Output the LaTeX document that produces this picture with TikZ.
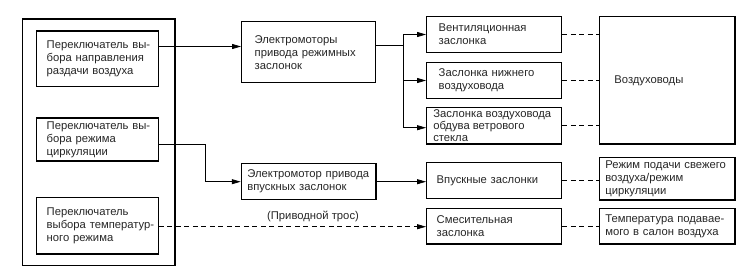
\documentclass[tikz,border=0pt]{standalone}
\usepackage{fontspec}
\setmainfont{Liberation Sans}
\usetikzlibrary{arrows.meta}
\begin{document}
\begin{tikzpicture}[x=1bp,y=-1bp,
  txt/.style={font=\fontsize{11.3}{13}\selectfont, text=black!85},
  box/.style={draw, line width=1.3bp, inner ysep=0pt, align=left, txt},
  arr/.style={line width=0.8bp, -{Triangle[length=9bp,width=5bp]}},
  wire/.style={line width=0.8bp},
  link/.style={line width=0.8bp, dash pattern=on 5bp off 3.5bp}
]
\useasboundingbox (0,0) rectangle (750,272);
\node[draw, line width=1.3bp, minimum width=152.3bp, minimum height=246.7bp] (panel) at (98.85,142.35) {};
\node[box, minimum width=121.6bp, minimum height=55.7bp, text width=101.6bp, inner xsep=10bp] (s1) at (97.5,58.8) {\mbox{Переключатель вы-}\\\mbox{бора направления}\\\mbox{раздачи воздуха}};
\node[box, minimum width=121.6bp, minimum height=43bp, text width=101.6bp, inner xsep=10bp] (s2) at (97.5,139.5) {\mbox{Переключатель вы-}\\\mbox{бора режима}\\циркуляции};
\node[box, minimum width=121.6bp, minimum height=56.3bp, text width=101.6bp, inner xsep=10bp] (s3) at (97.5,225.8) {Переключатель\\\mbox{выбора температур-}\\\mbox{ного режима}};
\node[box, minimum width=134bp, minimum height=61bp, text width=108bp, inner xsep=13bp] (m1) at (308.7,52.2) {Электромоторы\\\mbox{привода режимных}\\заслонок};
\node[box, minimum width=134.6bp, minimum height=36bp, text width=122.6bp, inner xsep=6bp] (m2) at (308.7,181.7) {\mbox{Электромотор привода}\\\mbox{впускных заслонок}};
\node[box, minimum width=135bp, minimum height=35.6bp, text width=111bp, inner xsep=12bp] (d1) at (494.2,34.5) {Вентиляционная\\заслонка};
\node[box, minimum width=135bp, minimum height=35.6bp, text width=111bp, inner xsep=12bp] (d2) at (494.2,80.5) {\mbox{Заслонка нижнего}\\воздуховода};
\node[box, minimum width=135bp, minimum height=36.3bp] (d3) at (494.2,125.8) {};
\node[txt, align=left, anchor=west, inner sep=0pt, font=\fontsize{11.3}{12}\selectfont] (d3t) at ([xshift=7bp]d3.west) {Заслонка воздуховода\\обдува ветрового\\стекла};
\node[box, minimum width=135bp, minimum height=35.6bp, text width=115bp, inner xsep=10bp] (d4) at (494.2,180.5) {\mbox{Впускные заслонки}};
\node[box, minimum width=135bp, minimum height=35.7bp, text width=115bp, inner xsep=10bp] (d5) at (494.2,226.2) {Смесительная\\заслонка};
\node[box, minimum width=135.7bp, minimum height=127.3bp, text width=105.7bp, inner xsep=15bp] (r1) at (667.2,80.3) {Воздуховоды};
\node[box, minimum width=135.7bp, minimum height=42.7bp, text width=123.7bp, inner xsep=6bp] (r2) at (667.2,178.7) {\mbox{Режим подачи свежего}\\\mbox{воздуха/режим}\\циркуляции};
\node[box, minimum width=135.7bp, minimum height=35.7bp, text width=123.7bp, inner xsep=6bp] (r3) at (667.2,226.2) {\mbox{Температура подавае-}\\\mbox{мого в салон воздуха}};
\node[txt] (cable) at (313,216) {(Приводной трос)};
% connectors
\draw[arr] (s1.east |- 0,46.5) -- (m1.west |- 0,46.5);
\coordinate (j1) at (403.3,45.7);
\coordinate (j3) at (403.3,127.7);
\draw[wire] (m1.east |- j1) -- (j1);
\draw[wire] (j1 |- d1) -- (j3);
\draw[arr] (j1 |- d1) -- (d1.west);
\draw[arr] (j1 |- d2) -- (d2.west);
\draw[arr] (j3) -- (d3.west |- j3);
\coordinate (j2) at (205,144);
\draw[arr] (s2.east |- j2) -- (j2) |- (m2.west);
\draw[arr] (m2.east) -- (m2.east -| d4.west);
\draw[link, arr] (s3.east |- 0,226.7) -- (d5.west |- 0,226.7);
\draw[link] (d1.east) -- (d1.east -| r1.west);
\draw[link] (d2.east) -- (d2.east -| r1.west);
\draw[link] (d3.east) -- (d3.east -| r1.west);
\draw[link] (d4.east) -- (d4.east -| r2.west);
\draw[link] (d5.east) -- (d5.east -| r3.west);
\end{tikzpicture}
\end{document}
